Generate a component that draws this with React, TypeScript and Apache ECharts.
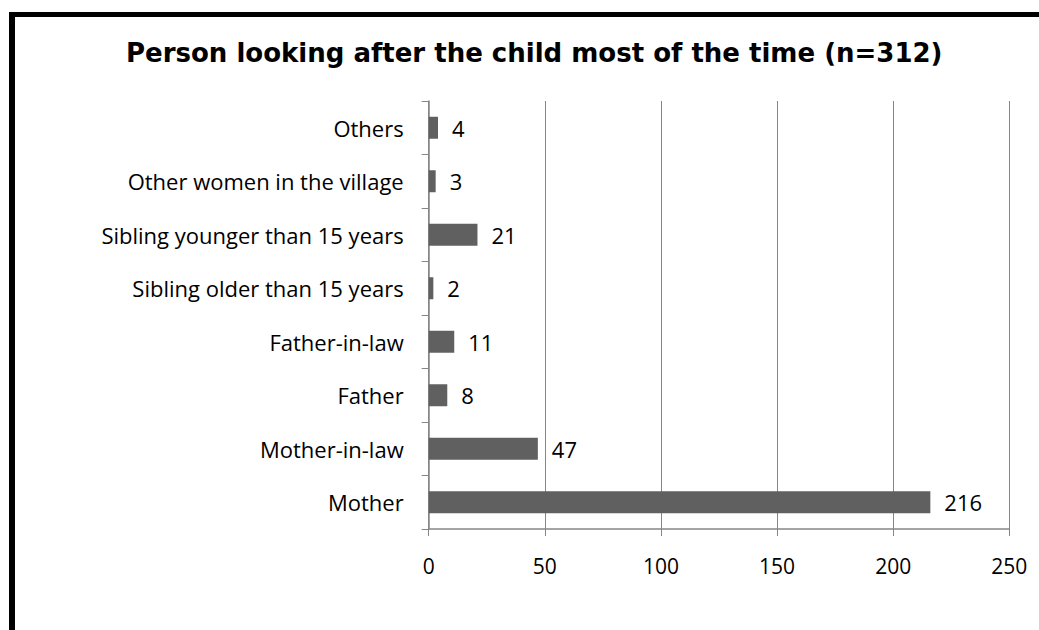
import React, { useEffect, useRef } from "react";
import * as echarts from "echarts";

const categories = [
  "Mother",
  "Mother-in-law",
  "Father",
  "Father-in-law",
  "Sibling older than 15 years",
  "Sibling younger than 15 years",
  "Other women in the village",
  "Others",
];
const counts = [216, 47, 8, 11, 2, 21, 3, 4];
const xTicks = [0, 50, 100, 150, 200, 250];

const TITLE = "Person looking after the child most of the time (n=312)";
const LABEL_FONT = "'Open Sans', 'Noto Sans', sans-serif";
const GRID_GREY = "#868686";
const BAR_GREY = "#606060";

export default function App() {
  const ref = useRef<HTMLDivElement>(null);

  useEffect(() => {
    if (!ref.current) return;
    const chart = echarts.init(ref.current, undefined, { renderer: "svg" });
    chart.setOption({
      animation: false,
      backgroundColor: "#ffffff",
      title: {
        text: TITLE,
        left: 121,
        top: 35,
        textStyle: {
          fontFamily: "'DejaVu Sans', Arial, sans-serif",
          fontWeight: "bold",
          fontSize: 26,
          color: "#000",
        },
      },
      graphic: [
        // frame edges along the left and top of the figure
        { type: "rect", shape: { x: 9, y: 12, width: 6, height: 630 }, style: { fill: "#000" } },
        { type: "rect", shape: { x: 9, y: 12, width: 1040, height: 5 }, style: { fill: "#000" } },
      ],
      grid: { left: 428.7, right: 29.7, top: 101, bottom: 101 },
      xAxis: {
        type: "value",
        min: 0,
        max: 250,
        interval: 50,
        axisLine: { show: true, lineStyle: { color: GRID_GREY, width: 1.5 } },
        axisTick: { show: true, length: 7, lineStyle: { color: GRID_GREY } },
        splitLine: { show: true, lineStyle: { color: GRID_GREY, width: 1 } },
        axisLabel: {
          margin: 26,
          fontFamily: LABEL_FONT,
          fontSize: 21,
          color: "#000",
          formatter: (v: number) => (xTicks.includes(v) ? String(v) : ""),
        },
      },
      yAxis: {
        type: "category",
        data: categories,
        axisLine: { show: true, lineStyle: { color: GRID_GREY, width: 1.5 } },
        axisTick: { show: true, length: 7, inside: false, lineStyle: { color: GRID_GREY } },
        axisLabel: {
          margin: 25,
          fontFamily: LABEL_FONT,
          fontSize: 22,
          color: "#000",
        },
      },
      series: [
        {
          type: "bar",
          data: counts,
          barWidth: 22,
          itemStyle: { color: BAR_GREY },
          label: {
            show: true,
            position: "right",
            distance: 14,
            fontFamily: LABEL_FONT,
            fontSize: 22,
            color: "#000",
          },
        },
      ],
    });
    return () => chart.dispose();
  }, []);

  return (
    <div
      ref={ref}
      style={{ position: "fixed", left: 0, top: 0, width: 1039, height: 630 }}
    />
  );
}
